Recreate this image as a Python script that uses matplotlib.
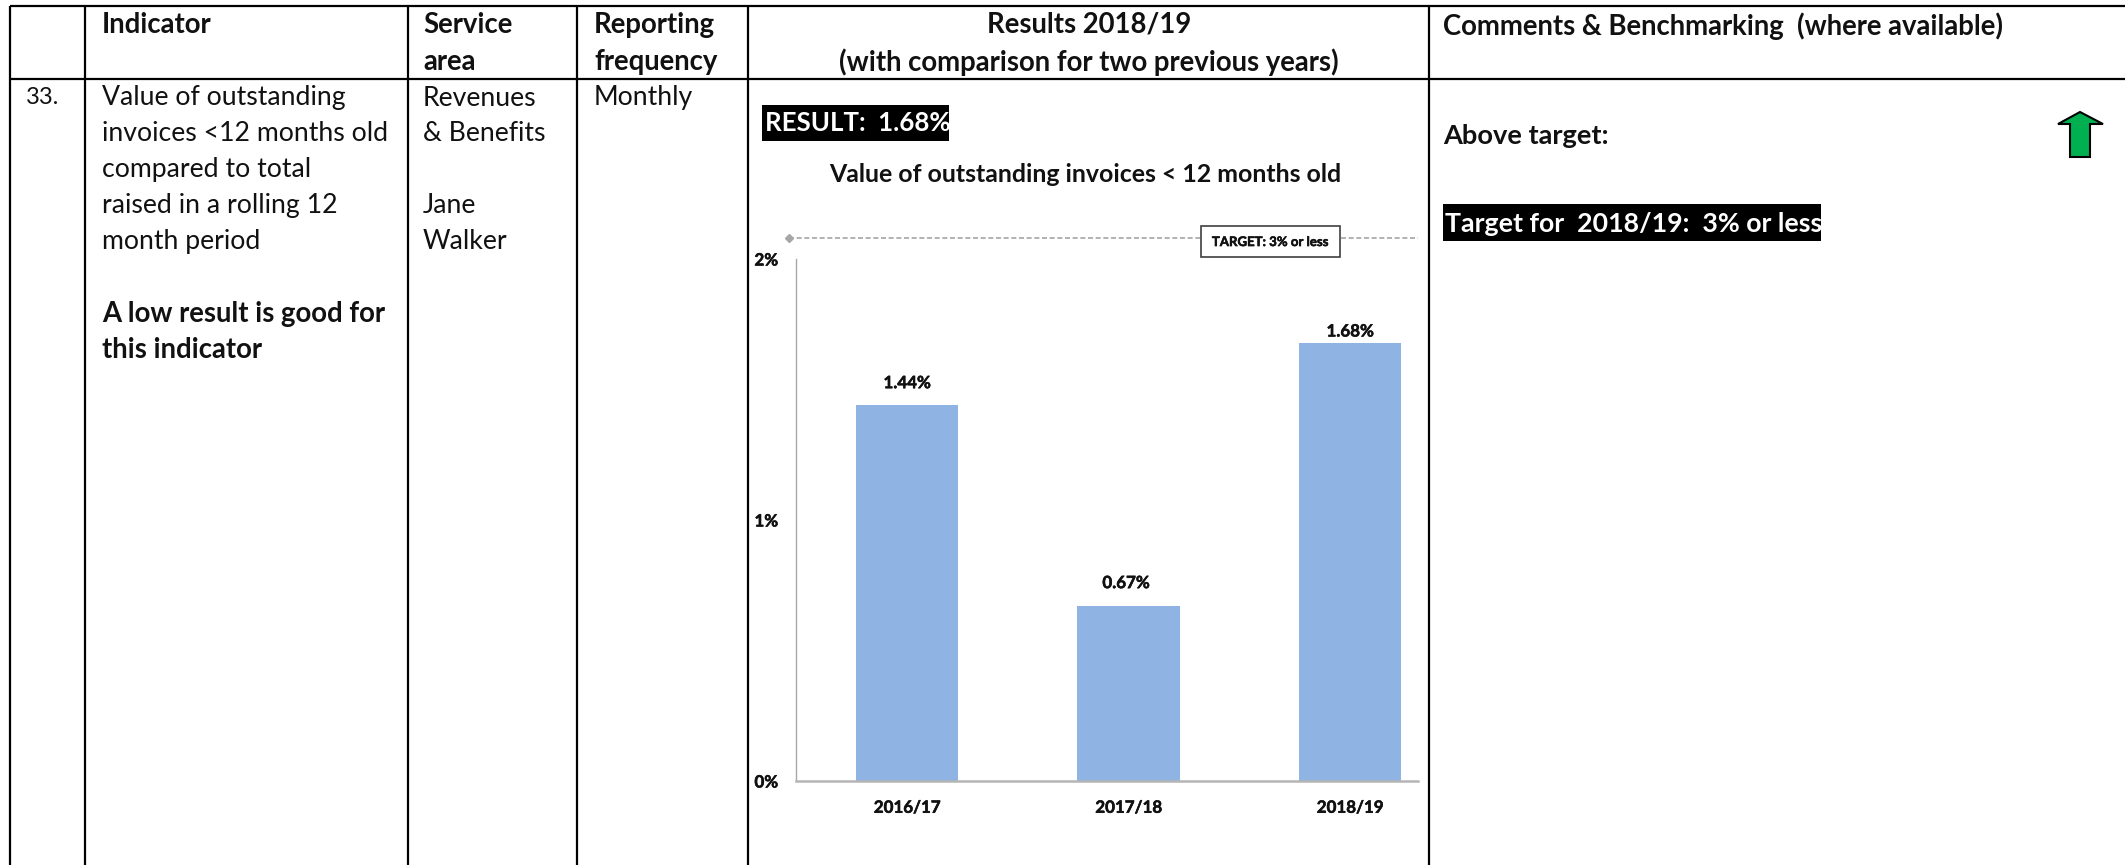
import matplotlib
matplotlib.use("Agg")
import matplotlib.pyplot as plt
import matplotlib.patheffects as pe
from matplotlib.patches import Polygon, Rectangle

W, H = 2125, 865

# chart data
years = ["2016/17", "2017/18", "2018/19"]
results = [1.44, 0.67, 1.68]
result_labels = ["1.44%", "0.67%", "1.68%"]
y_ticks = [0, 1, 2]
y_tick_labels = ["0%", "1%", "2%"]
target_line = 2.08
target_label = "TARGET: 3% or less"

# table text
indicator_lines = ["Value of outstanding", "invoices <12 months old", "compared to total",
                   "raised in a rolling 12", "month period"]
indicator_note = ["A low result is good for", "this indicator"]
service_lines = ["Revenues", "& Benefits", "", "Jane", "Walker"]

plt.rcParams["font.family"] = ["Lato", "DejaVu Sans"]
fig = plt.figure(figsize=(W / 100, H / 100), dpi=100, facecolor="white")

bg = fig.add_axes([0, 0, 1, 1])
bg.set_xlim(0, W)
bg.set_ylim(H, 0)
bg.axis("off")

# table rules
for x in [10, 85, 408, 577, 748, 1429]:
    bg.plot([x, x], [6, H], color="black", lw=1.6, solid_capstyle="butt")
for y in [6, 79]:
    bg.plot([10, W], [y, y], color="black", lw=1.6, solid_capstyle="butt")

BODY = 19.2
BOLD = 19.8
TXT = "#111111"
# thin outline, the small chart labels look too light otherwise
THICK = [pe.withStroke(linewidth=0.4, foreground=TXT)]


def put(x, y, s, size=None, bold=False, color=TXT, ha="left"):
    if size is None:
        size = BOLD if bold else BODY
    bg.text(x, y, s, fontsize=size, fontweight="bold" if bold else "normal",
            color=color, ha=ha, va="center")


# header row
put(102, 25, "Indicator", bold=True)
put(423, 25, "Service", bold=True)
put(423, 62, "area", bold=True)
put(594, 25, "Reporting", bold=True)
put(594, 62, "frequency", bold=True)
put(1089, 25, "Results 2018/19", bold=True, ha="center")
put(1089, 62, "(with comparison for two previous years)", bold=True, ha="center")
put(1443, 26, "Comments & Benchmarking  (where available)", bold=True)

# body row
put(26, 97, "33.", size=17)
for i, s in enumerate(indicator_lines):
    put(102, 98 + i * 35.8, s)
for i, s in enumerate(indicator_note):
    put(102, 314 + i * 36, s, bold=True)
for i, s in enumerate(service_lines):
    put(423, 98 + i * 35.8, s)
put(594, 98, "Monthly")

# result box and chart title
bg.add_patch(Rectangle((762, 105), 187, 36, color="black", lw=0))
put(765, 123, "RESULT:  1.68%", size=18.6, bold=True, color="white")
put(1085.5, 174, "Value of outstanding invoices < 12 months old", size=17.9, bold=True, ha="center")

# comments column
put(1443, 136, "Above target:", size=19.6, bold=True)
bg.add_patch(Rectangle((1443, 204), 378, 37, color="black", lw=0))
put(1445, 224, "Target for  2018/19:  3% or less", size=19.3, bold=True, color="white")
bg.add_patch(Polygon([(2080, 112), (2103, 124), (2090, 124), (2090, 157), (2070, 157),
                      (2070, 124), (2058, 124)], closed=True,
                     facecolor="#00B050", edgecolor="black", lw=1.5))

# bar chart, axes box placed in pixels
ax_l, ax_r, ax_t, ax_b = 796, 1418, 259, 781
ax = fig.add_axes([ax_l / W, 1 - ax_b / H, (ax_r - ax_l) / W, (ax_b - ax_t) / H])
ax.patch.set_alpha(0)
xs = list(range(len(years)))
ax.bar(xs, results, width=0.464, color="#8FB3E2", zorder=2)
ax.set_xlim(-0.501, 2.307)
ax.set_ylim(0, 2)
ax.set_xticks(xs, years)
ax.set_yticks(y_ticks, y_tick_labels)
ax.tick_params(length=0, labelsize=12.2, labelcolor=TXT)
ax.tick_params(axis="x", pad=13.5)
ax.tick_params(axis="y", pad=13)
for lab in ax.get_xticklabels() + ax.get_yticklabels():
    lab.set_fontweight("bold")
    lab.set_path_effects(THICK)
ax.spines[["top", "right"]].set_visible(False)
ax.spines["left"].set_color("#A6A6A6")
ax.spines["left"].set_linewidth(1.0)
ax.spines["bottom"].set_color("#B5B5B5")
ax.spines["bottom"].set_linewidth(1.8)

# data labels were hand placed in the original, gaps differ per bar
label_gaps = [22, 23, 11]
label_shift = [0, -2.6, 0]
for x, v, s, g, d in zip(xs, results, result_labels, label_gaps, label_shift):
    ax.annotate(s, (x, v), xytext=(d, g), textcoords="offset pixels", ha="center", va="center",
                fontsize=12.2, fontweight="bold", color=TXT, path_effects=THICK)

# target line sits just above the axis top
ax.plot([-0.533, 2.307], [target_line, target_line], color="#A6A6A6", lw=1.2, ls=(0, (3, 1.6)), clip_on=False)
ax.plot([-0.533], [target_line], marker="D", ms=4.5, color="#A6A6A6", clip_on=False)
ax.add_patch(Rectangle((1.641 - 0.314, 2.008), 0.628, 0.118, facecolor="white", edgecolor="#404040",
                       lw=1.2, clip_on=False, zorder=4))
ax.text(1.641, 2.065, target_label, fontsize=9.5, fontweight="bold", color=TXT, ha="center", va="center",
        path_effects=THICK, zorder=5)

plt.savefig("out.png", dpi=100)
